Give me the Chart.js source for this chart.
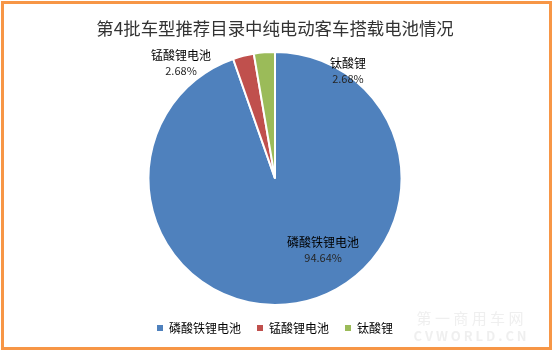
<!DOCTYPE html>
<html>
<head>
<meta charset="utf-8">
<script src="https://cdn.jsdelivr.net/npm/chart.js@4"></script>
<style>
  html, body { margin: 0; padding: 0; background: #fff; }
  canvas { display: block; }
</style>
</head>
<body>
<canvas id="chartPie" width="554" height="352"></canvas>
<script>
// Data
const titleText = '第4批车型推荐目录中纯电动客车搭载电池情况';
const categories = ['磷酸铁锂电池', '锰酸锂电池', '钛酸锂'];
const shares = [94.64, 2.68, 2.68];
const sliceColors = ['#4F81BD', '#C0504D', '#9BBB59'];

const FONT = '"Noto Sans CJK SC", "Noto Sans", sans-serif';

// posisi label (sudut dari atas searah jarum jam, jarak relatif ke jari-jari)
const labelPlace = [
  { angle: 146, dist: 0.68 },
  { angle: -39, dist: 1.18 },
  { angle: 34, dist: 1.03 }
];

// bingkai oranye
const framePlugin = {
  id: 'frame',
  beforeDraw(chart) {
    const c = chart.ctx;
    c.save();
    c.fillStyle = '#fff';
    c.fillRect(0, 0, chart.width, chart.height);
    c.strokeStyle = '#F79646';
    c.lineWidth = 3;
    c.strokeRect(2.5, 2.5, 548, 346);
    c.restore();
  },
  afterDraw(chart) {
    // watermark samar
    const c = chart.ctx;
    c.save();
    c.fillStyle = 'rgba(225,225,225,0.55)';
    c.textAlign = 'center';
    c.textBaseline = 'middle';
    c.font = '15px ' + FONT;
    c.fillText('第 一 商 用 车 网', 470, 318);
    c.font = 'bold 13px ' + FONT;
    c.fillText('C V W O R L D . C N', 470, 336);
    c.restore();
  }
};

// label data pada pie
const labelPlugin = {
  id: 'sliceLabels',
  afterDatasetsDraw(chart) {
    const c = chart.ctx;
    const meta = chart.getDatasetMeta(0);
    c.save();
    c.textAlign = 'center';
    c.textBaseline = 'middle';
    meta.data.forEach((arc, i) => {
      const p = arc.getProps(['x', 'y', 'outerRadius'], true);
      const a = labelPlace[i].angle * Math.PI / 180;
      const r = p.outerRadius * labelPlace[i].dist;
      const x = p.x + Math.sin(a) * r;
      const y = p.y - Math.cos(a) * r;
      c.fillStyle = '#000';
      c.font = '12px ' + FONT;
      c.fillText(categories[i], x, y - 7);
      c.fillStyle = '#262626';
      c.font = '11px ' + FONT;
      c.fillText(shares[i].toFixed(2) + '%', x, y + 8);
    });
    c.restore();
  }
};

const ctx = document.getElementById('chartPie').getContext('2d');
const chart = new Chart(ctx, {
  type: 'pie',
  data: {
    labels: categories,
    datasets: [{
      data: shares,
      backgroundColor: sliceColors,
      borderColor: '#fff',
      borderWidth: 2
    }]
  },
  options: {
    responsive: false,
    animation: false,
    layout: { padding: { top: 0, bottom: 8, left: 0, right: 4 } },
    plugins: {
      title: {
        display: true,
        text: titleText,
        color: '#333',
        font: { family: FONT, size: 17.4, weight: 'normal' },
        padding: { top: 18, bottom: 12 }
      },
      legend: {
        position: 'bottom',
        labels: {
          color: '#262626',
          font: { family: FONT, size: 12 },
          boxWidth: 6,
          boxHeight: 6,
          padding: 16,
          generateLabels(ch) {
            return categories.map((name, i) => ({
              text: name,
              fillStyle: sliceColors[i],
              strokeStyle: sliceColors[i],
              lineWidth: 0,
              index: i
            }));
          }
        }
      },
      tooltip: { enabled: false }
    }
  },
  plugins: [framePlugin, labelPlugin]
});
</script>
</body>
</html>
